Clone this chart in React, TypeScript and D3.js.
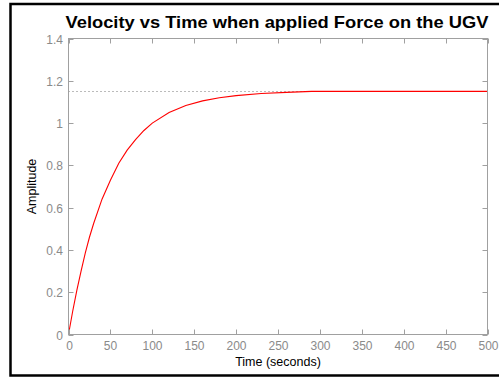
import React from "react";
import * as d3 from "d3";

const timeValues = [0, 5, 10, 15, 20, 25, 30, 40, 50, 60, 70, 80, 90, 100, 120, 140, 160, 180, 200, 230, 260, 290, 500];
const amplitudeValues = [0, 0.11, 0.21, 0.3, 0.385, 0.46, 0.525, 0.64, 0.73, 0.81, 0.872, 0.922, 0.965, 1.0, 1.05, 1.083, 1.105, 1.12, 1.13, 1.14, 1.145, 1.15, 1.15];
const steadyStateValue = 1.15;
const steadyStateRange = [0, 290];
const xTicks = [0, 50, 100, 150, 200, 250, 300, 350, 400, 450, 500];
const yTicks = [0, 0.2, 0.4, 0.6, 0.8, 1, 1.2, 1.4];
const titleText = "Velocity vs Time when applied Force on the UGV";
const xLabel = "Time (seconds)";
const yLabel = "Amplitude";

export default function App() {
  const W = 499, H = 377;
  const left = 68.5, right = 487.5, top = 38.5, bottom = 334.5;
  const x = d3.scaleLinear().domain([0, 500]).range([left, right]);
  const y = d3.scaleLinear().domain([0, 1.4]).range([bottom, top]);
  const line = d3.line<number>().x((_, i) => x(timeValues[i])).y((d) => y(d));
  const axisColor = "#a0a0a0";
  const labelColor = "#8a8a8a";
  const font = "'Liberation Sans', Arial, sans-serif";
  const tl = 5;
  return (
    <svg width={W} height={H} style={{ position: "absolute", left: 0, top: 0, background: "#fff" }}>
      <rect x={0} y={0} width={W} height={H} fill="#fff" />
      <path d={`M${W + 5},4 H10.5 V375.5 H${W + 5}`} fill="none" stroke="#000" strokeWidth={2.5} />
      <text
        x={(left + right) / 2 - 1}
        y={28}
        textAnchor="middle"
        fontFamily={font}
        fontWeight="bold"
        fontSize={17}
        fill="#000"
        textLength={423}
        lengthAdjust="spacingAndGlyphs"
      >
        {titleText}
      </text>
      <line
        x1={x(steadyStateRange[0])}
        x2={x(steadyStateRange[1])}
        y1={Math.round(y(steadyStateValue)) + 0.5}
        y2={Math.round(y(steadyStateValue)) + 0.5}
        stroke="#777"
        strokeWidth={1}
        strokeDasharray="1,3"
      />
      <path d={line(amplitudeValues) || ""} fill="none" stroke="#ff0000" strokeWidth={1.1} />
      <rect x={left} y={top} width={right - left} height={bottom - top} fill="none" stroke={axisColor} strokeWidth={1} />
      {xTicks.map((t) => {
        const px = Math.round(x(t)) + 0.5;
        return (
          <g key={"x" + t}>
            <line x1={px} x2={px} y1={bottom} y2={bottom - tl} stroke={axisColor} />
            <line x1={px} x2={px} y1={top} y2={top + tl} stroke={axisColor} />
            <text x={px} y={350} textAnchor="middle" fontFamily={font} fontSize={12} fill={labelColor}>
              {t}
            </text>
          </g>
        );
      })}
      {yTicks.map((t) => {
        const py = Math.round(y(t)) + 0.5;
        return (
          <g key={"y" + t}>
            <line x1={left} x2={left + tl} y1={py} y2={py} stroke={axisColor} />
            <line x1={right} x2={right - tl} y1={py} y2={py} stroke={axisColor} />
            <text x={63} y={py + 4} textAnchor="end" fontFamily={font} fontSize={12} fill={labelColor}>
              {String(t)}
            </text>
          </g>
        );
      })}
      <text x={(left + right) / 2} y={366} textAnchor="middle" fontFamily={font} fontSize={12.5} fill="#000">
        {xLabel}
      </text>
      <text
        transform={`translate(36,${(top + bottom) / 2}) rotate(-90)`}
        textAnchor="middle"
        fontFamily={font}
        fontSize={12.5}
        fill="#000"
      >
        {yLabel}
      </text>
    </svg>
  );
}
